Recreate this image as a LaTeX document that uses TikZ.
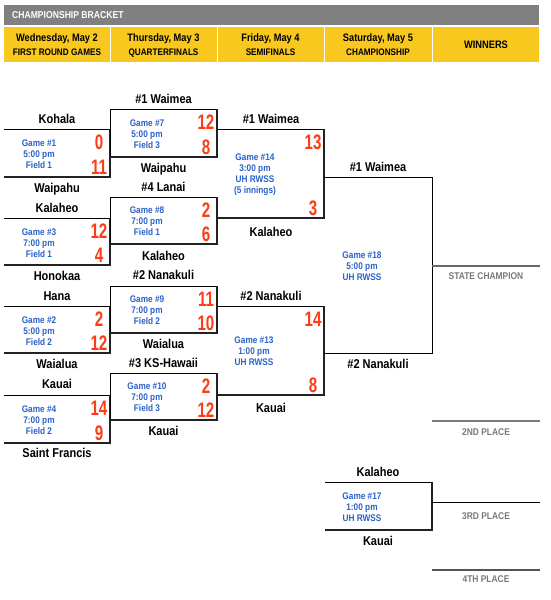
\documentclass[tikz,border=0pt]{standalone}
\usepackage{fontspec}
\setmainfont{Liberation Sans}[FakeStretch=0.86]
\newfontfamily\scorefont{Liberation Sans}[FakeStretch=0.72]
\definecolor{hdrgray}{HTML}{808080}
\definecolor{hdryellow}{HTML}{F8C81E}
\definecolor{gameblue}{HTML}{2A62C8}
\definecolor{scorered}{HTML}{FF3A14}
\definecolor{placegray}{HTML}{7A7A7A}
\definecolor{shadowc}{HTML}{222222}
\begin{document}
\begin{tikzpicture}[x=1pt,y=-1pt,
  hdrtitle/.style={font=\bfseries\fontsize{10}{11}\selectfont, text=white, inner sep=0, text height=7.2pt, text depth=0pt},
  dayA/.style={font=\bfseries\fontsize{10.8}{12}\selectfont, inner sep=0, text height=7.8pt, text depth=0pt},
  dayB/.style={font=\bfseries\fontsize{9.5}{11}\selectfont, inner sep=0, text height=6.8pt, text depth=0pt},
  team/.style={font=\bfseries\fontsize{12.8}{14}\selectfont, inner sep=0, text height=9.2pt, text depth=0pt},
  gametxt/.style={font=\bfseries\fontsize{9.6}{11}\selectfont, text=gameblue, align=center, inner sep=0},
  score/.style={font=\scorefont\bfseries\fontsize{21}{21}\selectfont, text=scorered, inner sep=0, text height=15pt, text depth=0pt},
  place/.style={font=\bfseries\fontsize{9.8}{10}\selectfont, text=placegray, inner sep=0, text height=7pt, text depth=0pt},
  topline/.style={line width=0.9pt, black},
  shadowline/.style={line width=1.4pt, shadowc},
  placeline/.style={line width=1.6pt, placegray},
]
\useasboundingbox (0,0) rectangle (550,600);
\fill[white] (0,0) rectangle (550,600);

% ---------- header ----------
\fill[hdrgray] (4,5) rectangle (539,25);
\node[hdrtitle, anchor=west] (title) at (12,15) {CHAMPIONSHIP BRACKET};
\fill[hdryellow] (4,27) rectangle (109.5,62);
\fill[hdryellow] (110.5,27) rectangle (216.5,62);
\fill[hdryellow] (217.5,27) rectangle (323.5,62);
\fill[hdryellow] (324.5,27) rectangle (431.5,62);
\fill[hdryellow] (432.5,27) rectangle (539,62);
\node[dayA] (d1a) at (57,37.5) {Wednesday, May 2};
\node[dayB] (d1b) at (57,52.5) {FIRST ROUND GAMES};
\node[dayA] (d2a) at (163.5,37.5) {Thursday, May 3};
\node[dayB] (d2b) at (163.5,52.5) {QUARTERFINALS};
\node[dayA] (d3a) at (270.5,37.5) {Friday, May 4};
\node[dayB] (d3b) at (270.5,52.5) {SEMIFINALS};
\node[dayA] (d4a) at (378,37.5) {Saturday, May 5};
\node[dayB] (d4b) at (378,52.5) {CHAMPIONSHIP};
\node[dayA] (d5) at (486,44.5) {WINNERS};

% ---------- round 1 (open on the left) ----------
% Game 1
\draw[topline] (4,129) -- (110,129);
\draw[shadowline] (110,129) -- (110,177) -- (4,177);
\node[team] (g1t) at (57,119) {Kohala};
\node[team] (g1b) at (57,188) {Waipahu};
\node[gametxt] (g1) at (39,154) {Game \#1\\5:00 pm\\Field 1};
\node[score] (g1s1) at (99,141.5) {0};
\node[score] (g1s2) at (99,166.5) {11};
% Game 3
\draw[topline] (4,218) -- (110,218);
\draw[shadowline] (110,218) -- (110,265) -- (4,265);
\node[team] (g3t) at (57,208) {Kalaheo};
\node[team] (g3b) at (57,276) {Honokaa};
\node[gametxt] (g3) at (39,243) {Game \#3\\7:00 pm\\Field 1};
\node[score] (g3s1) at (99,230.5) {12};
\node[score] (g3s2) at (99,254.5) {4};
% Game 2
\draw[topline] (4,306) -- (110,306);
\draw[shadowline] (110,306) -- (110,353) -- (4,353);
\node[team] (g2t) at (57,296) {Hana};
\node[team] (g2b) at (57,364) {Waialua};
\node[gametxt] (g2) at (39,331) {Game \#2\\5:00 pm\\Field 2};
\node[score] (g2s1) at (99,318.5) {2};
\node[score] (g2s2) at (99,342.5) {12};
% Game 4
\draw[topline] (4,395) -- (110,395);
\draw[shadowline] (110,395) -- (110,443) -- (4,443);
\node[team] (g4t) at (57,384) {Kauai};
\node[team] (g4b) at (57,453) {Saint Francis};
\node[gametxt] (g4) at (39,420) {Game \#4\\7:00 pm\\Field 2};
\node[score] (g4s1) at (99,407.5) {14};
\node[score] (g4s2) at (99,432.5) {9};

% ---------- round 2 (quarterfinals) ----------
% Game 7
\draw[topline] (110,157) -- (110,109) -- (217,109);
\draw[shadowline] (217,109) -- (217,157) -- (110,157);
\node[team] (g7t) at (163.5,99) {\#1 Waimea};
\node[team] (g7b) at (163.5,168) {Waipahu};
\node[gametxt] (g7) at (147,134) {Game \#7\\5:00 pm\\Field 3};
\node[score] (g7s1) at (206,121.5) {12};
\node[score] (g7s2) at (206,146.5) {8};
% Game 8
\draw[topline] (110,244) -- (110,197) -- (217,197);
\draw[shadowline] (217,197) -- (217,244) -- (110,244);
\node[team] (g8t) at (163.5,187) {\#4 Lanai};
\node[team] (g8b) at (163.5,256) {Kalaheo};
\node[gametxt] (g8) at (147,221.5) {Game \#8\\7:00 pm\\Field 1};
\node[score] (g8s1) at (206,209.5) {2};
\node[score] (g8s2) at (206,233.5) {6};
% Game 9
\draw[topline] (110,333) -- (110,286) -- (217,286);
\draw[shadowline] (217,286) -- (217,333) -- (110,333);
\node[team] (g9t) at (163.5,275) {\#2 Nanakuli};
\node[team] (g9b) at (163.5,344) {Waialua};
\node[gametxt] (g9) at (147,310.5) {Game \#9\\7:00 pm\\Field 2};
\node[score] (g9s1) at (206,298.5) {11};
\node[score] (g9s2) at (206,322.5) {10};
% Game 10
\draw[topline] (110,420) -- (110,373) -- (217,373);
\draw[shadowline] (217,373) -- (217,420) -- (110,420);
\node[team] (g10t) at (163.5,363) {\#3 KS-Hawaii};
\node[team] (g10b) at (163.5,431) {Kauai};
\node[gametxt] (g10) at (147,397.5) {Game \#10\\7:00 pm\\Field 3};
\node[score] (g10s1) at (206,385.5) {2};
\node[score] (g10s2) at (206,409.5) {12};

% ---------- round 3 (semifinals) ----------
% Game 14
\draw[topline] (217,129) -- (324,129);
\draw[shadowline] (324,129) -- (324,218) -- (217,218);
\node[team] (g14t) at (271,119) {\#1 Waimea};
\node[team] (g14b) at (271,232) {Kalaheo};
\node[gametxt] (g14) at (255,174.5) {Game \#14\\3:00 pm\\UH RWSS\\(5 innings)};
\node[score] (g14s1) at (313,141.5) {13};
\node[score] (g14s2) at (313,207.5) {3};
% Game 13
\draw[topline] (217,306) -- (324,306);
\draw[shadowline] (324,306) -- (324,395) -- (217,395);
\node[team] (g13t) at (271,296) {\#2 Nanakuli};
\node[team] (g13b) at (271,408) {Kauai};
\node[gametxt] (g13) at (254,351.5) {Game \#13\\1:00 pm\\UH RWSS};
\node[score] (g13s1) at (313,318.5) {14};
\node[score] (g13s2) at (313,384.5) {8};

% ---------- round 4 (championship) ----------
% Game 18
\draw[topline] (324,177) -- (432,177) -- (432,353) -- (324,353);
\node[team] (g18t) at (378,167) {\#1 Waimea};
\node[team] (g18b) at (378,364) {\#2 Nanakuli};
\node[gametxt] (g18) at (362,266.5) {Game \#18\\5:00 pm\\UH RWSS};
% Game 17
\draw[topline] (325,482) -- (432,482);
\draw[shadowline] (432,482) -- (432,530) -- (325,530);
\node[team] (g17t) at (378,472) {Kalaheo};
\node[team] (g17b) at (378,541) {Kauai};
\node[gametxt] (g17) at (362,507) {Game \#17\\1:00 pm\\UH RWSS};

% ---------- winners ----------
\draw[line width=1.3pt, placegray!85!black] (432,266) -- (540,266);
\node[place] (p1) at (486,276) {STATE CHAMPION};
\draw[placeline] (432,421) -- (540,421);
\node[place] (p2) at (486,432) {2ND PLACE};
\draw[topline] (432,502) -- (540,502);
\node[place] (p3) at (486,516) {3RD PLACE};
\draw[line width=1.3pt, placegray!70!black] (432,570) -- (540,570);
\node[place] (p4) at (486,579) {4TH PLACE};
\end{tikzpicture}
\end{document}
